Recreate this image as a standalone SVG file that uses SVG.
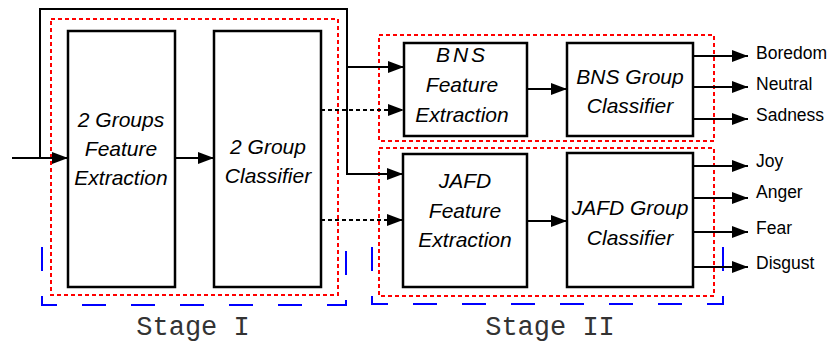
<svg xmlns="http://www.w3.org/2000/svg" width="831" height="347" viewBox="0 0 831 347">
<style>
.box{fill:#fff;stroke:#000;stroke-width:2.5}
.red{fill:none;stroke:#f00;stroke-width:2;stroke-dasharray:4 3}
.blue{fill:none;stroke:#00f;stroke-width:2;stroke-dasharray:24 25}
.ln{fill:none;stroke:#000;stroke-width:2}
.dot{fill:none;stroke:#000;stroke-width:2;stroke-dasharray:4 3}
.t{font-family:"Liberation Sans",Arial,sans-serif;font-style:italic;font-size:21px;text-anchor:middle;fill:#000}
.o{font-family:"Liberation Sans",Arial,sans-serif;font-size:17.5px;fill:#000}
.s{font-family:"Liberation Mono","Courier New",monospace;font-size:27px;text-anchor:middle;fill:#333}
</style>
<defs>
<marker id="ah" markerUnits="userSpaceOnUse" markerWidth="16" markerHeight="12" refX="16" refY="6" orient="auto">
<path d="M0,0 L16,6 L0,12 Z" fill="#000"/>
</marker>
</defs>
<rect width="831" height="347" fill="#fff"/>
<g id="stage1-frame">
<rect class="red" x="51" y="19" width="287" height="276"/>
<path class="blue" d="M42,247 V305 H346 V247"/>
<text class="s" x="193" y="335">Stage I</text>
</g>
<g id="stage2-frame">
<rect class="red" x="379" y="35" width="335" height="106"/>
<rect class="red" x="379" y="148" width="335" height="148"/>
<path class="blue" d="M372,247 V304 H723 V247"/>
<text class="s" x="550" y="335">Stage II</text>
</g>
<g id="n1">
<rect class="box" x="68" y="31" width="107" height="256"/>
<text class="t" x="121" y="127">2 Groups</text>
<text class="t" x="121" y="156">Feature</text>
<text class="t" x="121" y="185">Extraction</text>
</g>
<g id="n2">
<rect class="box" x="214" y="31" width="107" height="256"/>
<text class="t" x="268" y="154">2 Group</text>
<text class="t" x="268" y="183">Classifier</text>
</g>
<g id="n3">
<rect class="box" x="404" y="43" width="123" height="93"/>
<text class="t" x="462" y="62" letter-spacing="3">BNS</text>
<text class="t" x="462" y="92">Feature</text>
<text class="t" x="462" y="122">Extraction</text>
</g>
<g id="n4">
<rect class="box" x="567" y="43" width="126" height="93"/>
<text class="t" x="630" y="84">BNS Group</text>
<text class="t" x="630" y="113">Classifier</text>
</g>
<g id="n5">
<rect class="box" x="403" y="154" width="124" height="133"/>
<text class="t" x="465" y="188">JAFD</text>
<text class="t" x="465" y="218">Feature</text>
<text class="t" x="465" y="247">Extraction</text>
</g>
<g id="n6">
<rect class="box" x="567" y="153" width="126" height="134"/>
<text class="t" x="630" y="215">JAFD Group</text>
<text class="t" x="630" y="245">Classifier</text>
</g>
<g id="connectors">
<path class="ln" d="M12,158 H68" marker-end="url(#ah)"/>
<path class="ln" d="M40,158 V9 H347 V174 H403" marker-end="url(#ah)"/>
<path class="ln" d="M347,67 H404" marker-end="url(#ah)"/>
<path class="ln" d="M175,158 H214" marker-end="url(#ah)"/>
<path class="dot" d="M321,110 H404" marker-end="url(#ah)"/>
<path class="dot" d="M321,220 H403" marker-end="url(#ah)"/>
<path class="ln" d="M527,89 H567" marker-end="url(#ah)"/>
<path class="ln" d="M527,221 H567" marker-end="url(#ah)"/>
<path class="ln" d="M693,56 H748" marker-end="url(#ah)"/>
<path class="ln" d="M693,87 H748" marker-end="url(#ah)"/>
<path class="ln" d="M693,119 H748" marker-end="url(#ah)"/>
<path class="ln" d="M693,166 H748" marker-end="url(#ah)"/>
<path class="ln" d="M693,198 H748" marker-end="url(#ah)"/>
<path class="ln" d="M693,232 H748" marker-end="url(#ah)"/>
<path class="ln" d="M693,267 H748" marker-end="url(#ah)"/>
</g>
<g id="labels">
<text class="o" x="756" y="59">Boredom</text>
<text class="o" x="756" y="90">Neutral</text>
<text class="o" x="756" y="121">Sadness</text>
<text class="o" x="756" y="167">Joy</text>
<text class="o" x="756" y="198">Anger</text>
<text class="o" x="756" y="234">Fear</text>
<text class="o" x="756" y="269">Disgust</text>
</g>
</svg>
